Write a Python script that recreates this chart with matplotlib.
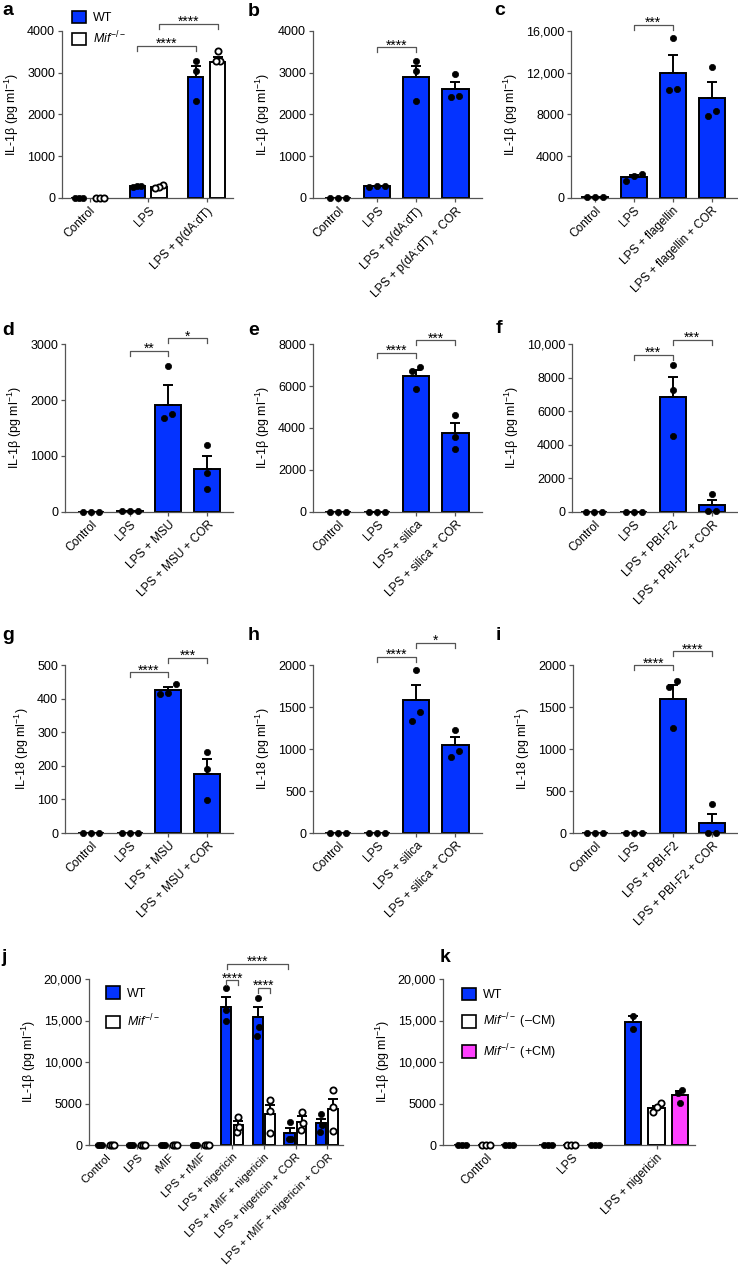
import matplotlib
matplotlib.use('Agg')
import matplotlib.pyplot as plt
from matplotlib.patches import Patch
import numpy as np

plt.rcParams['font.family'] = ['Liberation Sans', 'DejaVu Sans']
plt.rcParams['mathtext.fontset'] = 'custom'
plt.rcParams['mathtext.rm'] = 'Liberation Sans'
plt.rcParams['mathtext.it'] = 'Liberation Sans:italic'
plt.rcParams['mathtext.bf'] = 'Liberation Sans:bold'

BLUE = '#0433ff'
PINK = '#ff40ff'
GREY = '#555555'
W, H = 738, 1273
FS = 9
XFS = 8.6

IL1B = 'IL-1\u03b2 (pg ml$^{-1}$)'
IL18 = 'IL-18 (pg ml$^{-1}$)'
MIF = r'$\mathit{Mif}^{-/-}$'

# ---- data ----
# a
a_cats = ['Control', 'LPS', 'LPS + p(dA:dT)']
a_wt_mean = [0, 280, 2890]
a_wt_sem = [0, 8, 270]
a_wt_pts = [[0, 0, 0], [270, 285, 290], [3280, 3050, 2330]]
a_ko_mean = [0, 275, 3250]
a_ko_sem = [0, 20, 135]
a_ko_pts = [[0, 0, 0], [310, 255, 245], [3530, 3290, 3280]]

# b
b_cats = ['Control', 'LPS', 'LPS + p(dA:dT)', 'LPS + p(dA:dT) + COR']
b_mean = [0, 280, 2890, 2600]
b_sem = [0, 5, 280, 185]
b_pts = [[0, 0, 0], [280, 275, 285], [3280, 3050, 2330], [2960, 2430, 2450]]

# c
c_cats = ['Control', 'LPS', 'LPS + flagellin', 'LPS + flagellin + COR']
c_mean = [120, 2000, 12000, 9590]
c_sem = [10, 220, 1690, 1500]
c_pts = [[130, 120, 110], [2320, 1600, 2070], [15360, 10300, 10420], [12530, 7870, 8290]]

# d
d_cats = ['Control', 'LPS', 'LPS + MSU', 'LPS + MSU + COR']
d_mean = [0, 15, 1910, 770]
d_sem = [0, 2, 350, 230]
d_pts = [[0, 0, 0], [15, 15, 15], [2615, 1670, 1750], [1195, 705, 412]]

# e
e_cats = ['Control', 'LPS', 'LPS + silica', 'LPS + silica + COR']
e_mean = [0, 10, 6490, 3780]
e_sem = [0, 2, 255, 460]
e_pts = [[0, 0, 0], [10, 10, 10], [6905, 6700, 5875], [4630, 3590, 3010]]

# f
f_cats = ['Control', 'LPS', 'LPS + PBI-F2', 'LPS + PBI-F2 + COR']
f_mean = [0, 10, 6850, 390]
f_sem = [0, 2, 1210, 340]
f_pts = [[0, 0, 0], [10, 10, 10], [8730, 7240, 4500], [1070, 40, 40]]

# g
g_mean = [0, 0, 425, 177]
g_sem = [0, 0, 10, 42]
g_pts = [[0, 0, 0], [0, 0, 0], [443, 415, 417], [240, 189, 97]]

# h
h_mean = [0, 0, 1578, 1044]
h_sem = [0, 0, 183, 95]
h_pts = [[0, 0, 0], [0, 0, 0], [1940, 1446, 1339], [1227, 980, 908]]

# i
i_mean = [0, 0, 1600, 119]
i_sem = [0, 0, 166, 111]
i_pts = [[0, 0, 0], [0, 0, 0], [1813, 1738, 1250], [345, 0, 0]]

# j
j_cats = ['Control', 'LPS', 'rMIF', 'LPS + rMIF', 'LPS + nigericin',
          'LPS + rMIF + nigericin', 'LPS + nigericin + COR',
          'LPS + rMIF + nigericin + COR']
j_wt_mean = [0, 0, 0, 0, 16580, 15370, 1410, 2620]
j_wt_sem = [0, 0, 0, 0, 1200, 1210, 690, 520]
j_wt_pts = [[0, 0, 0], [0, 0, 0], [0, 0, 0], [0, 0, 0],
            [18870, 16300, 14970], [17700, 14200, 13080],
            [2820, 720, 680], [3700, 1530, 2410]]
j_ko_mean = [0, 0, 0, 0, 2370, 3700, 2820, 4310]
j_ko_sem = [0, 0, 0, 0, 520, 1130, 680, 1290]
j_ko_pts = [[0, 0, 0], [0, 0, 0], [0, 0, 0], [0, 0, 0],
            [3420, 1610, 2210], [5430, 4150, 1490],
            [4020, 1810, 2620], [6640, 4630, 1730]]

# k
k_cats = ['Control', 'LPS', 'LPS + nigericin']
k_wt_mean = [0, 0, 14780]
k_wt_sem = [0, 0, 800]
k_wt_pts = [[0, 0, 0], [0, 0, 0], [15580, 13980]]
k_ko_mean = [0, 0, 4420]
k_ko_sem = [0, 0, 300]
k_ko_pts = [[0, 0, 0], [0, 0, 0], [5020, 3940, 4620]]
k_cm_mean = [0, 0, 6020]
k_cm_sem = [0, 0, 480]
k_cm_pts = [[0, 0, 0], [0, 0, 0], [6670, 6270, 5020]]

fig = plt.figure(figsize=(W / 100, H / 100), dpi=100)


def make_axes(l, t, r, b):
    ax = fig.add_axes([l / W, 1 - b / H, (r - l) / W, (b - t) / H])
    ax.px = (r - l, b - t)
    return ax


def fmt(v):
    return f'{v:,}' if v >= 10000 else f'{v}'


def style(ax, yticks, xlim, ylabel, xticks, xlabels):
    ax.set_xlim(*xlim)
    ax.set_ylim(0, yticks[-1])
    ax.set_yticks(yticks)
    ax.set_yticklabels([fmt(v) for v in yticks])
    ax.set_xticks(xticks)
    ax.set_xticklabels(xlabels, rotation=45, ha='right', rotation_mode='anchor',
                       fontsize=XFS)
    for s in ['top', 'right']:
        ax.spines[s].set_visible(False)
    for s in ['left', 'bottom']:
        ax.spines[s].set_color(GREY)
        ax.spines[s].set_linewidth(0.9)
    ax.tick_params(direction='out', length=3, width=0.9, color=GREY, pad=2)
    ax.tick_params(axis='y', labelsize=FS)
    ax.set_ylabel(ylabel, fontsize=FS, labelpad=4)


def swarm(ax, vals, step_px):
    vals = np.asarray(vals, float)
    ytop = ax.get_ylim()[1]
    thresh = 9.3 * ytop / ax.px[1]
    xr = ax.get_xlim()[1] - ax.get_xlim()[0]
    unit = step_px * xr / ax.px[0]
    order = np.argsort(vals)
    clusters = [[order[0]]]
    for i in order[1:]:
        if vals[i] - vals[clusters[-1][-1]] < thresh:
            clusters[-1].append(i)
        else:
            clusters.append([i])
    offs = np.zeros(len(vals))
    for c in clusters:
        n = len(c)
        for k, idx in enumerate(c):
            offs[idx] = (k - (n - 1) / 2) * unit
    return offs


def draw(ax, xs, means, sems, pts, color, width, step_px, open_pts=False):
    ax.bar(xs, means, width=width, color=color, edgecolor='black',
           linewidth=1.4, zorder=2)
    for x, m, s in zip(xs, means, sems):
        if s > 0:
            ax.errorbar([x], [m], yerr=[[0], [s]], fmt='none', ecolor='black',
                        elinewidth=1.4, capsize=3.8, capthick=1.4, zorder=3)
    for x, p in zip(xs, pts):
        offs = swarm(ax, p, step_px)
        ax.plot(x + offs, p, 'o', ms=4.5,
                mfc='white' if open_pts else 'black', mec='black',
                mew=1.3 if open_pts else 0.5, clip_on=False, zorder=4)


def bracket(ax, x1, x2, y, label):
    ytop = ax.get_ylim()[1]
    d = 5 * ytop / ax.px[1]
    ax.plot([x1, x1, x2, x2], [y - d, y, y, y - d], color=GREY, lw=0.9,
            clip_on=False, zorder=5)
    ax.text((x1 + x2) / 2, y - 2 * ytop / ax.px[1], label, ha='center',
            va='baseline', fontsize=10, clip_on=False)


def panel_label(x, y, s):
    fig.text(x / W, 1 - y / H, s, fontsize=14, fontweight='bold',
             ha='left', va='baseline')


def legend(ax, handles, anchor, spacing):
    ax.legend(handles=handles, loc='upper left', bbox_to_anchor=anchor,
              frameon=False, fontsize=FS, handlelength=1.15, handleheight=1.15,
              labelspacing=spacing, handletextpad=0.5, borderpad=0,
              borderaxespad=0)


# ---- a ----
ax = make_axes(62, 31, 233, 198)
x = np.arange(len(a_cats))
style(ax, [0, 1000, 2000, 3000, 4000], (-0.47, 2.45), IL1B, x, a_cats)
draw(ax, x - 0.186, a_wt_mean, a_wt_sem, a_wt_pts, BLUE, 0.26, 4)
draw(ax, x + 0.186, a_ko_mean, a_ko_sem, a_ko_pts, 'white', 0.26, 4, True)
bracket(ax, 1 - 0.186, 2 - 0.186, 3640, '****')
bracket(ax, 1 + 0.186, 2 + 0.186, 4170, '****')
legend(ax, [Patch(facecolor=BLUE, edgecolor='black', lw=1.2, label='WT'),
            Patch(facecolor='white', edgecolor='black', lw=1.2, label=MIF)],
       (0.058, 1.12), 0.4)
panel_label(2, 15, 'a')

# ---- b-i single series panels ----
single = [
    ('b', (313, 31, 482, 198), b_cats, b_mean, b_sem, b_pts,
     [0, 1000, 2000, 3000, 4000], (-0.64, 3.68), IL1B,
     [(1, 2, 3610, '****')], (248, 16)),
    ('c', (571, 31, 737, 198), c_cats, c_mean, c_sem, c_pts,
     [0, 4000, 8000, 12000, 16000], (-0.61, 3.65), IL1B,
     [(1, 2, 16570, '***')], (494, 15)),
    ('d', (65, 344, 233, 512), d_cats, d_mean, d_sem, d_pts,
     [0, 1000, 2000, 3000], (-0.66, 3.66), IL1B,
     [(1, 2, 2870, '**'), (2, 3, 3100, '*')], (2, 335)),
    ('e', (313, 344, 482, 512), e_cats, e_mean, e_sem, e_pts,
     [0, 2000, 4000, 6000, 8000], (-0.64, 3.68), IL1B,
     [(1, 2, 7570, '****'), (2, 3, 8175, '***')], (248, 335)),
    ('f', (572, 344, 737, 512), f_cats, f_mean, f_sem, f_pts,
     [0, 2000, 4000, 6000, 8000, 10000], (-0.57, 3.64), IL1B,
     [(1, 2, 9345, '***'), (2, 3, 10260, '***')], (496, 333)),
    ('g', (65, 665, 233, 833), d_cats, g_mean, g_sem, g_pts,
     [0, 100, 200, 300, 400, 500], (-0.66, 3.66), IL18,
     [(1, 2, 478, '****'), (2, 3, 522, '***')], (2, 640)),
    ('h', (313, 665, 482, 833), e_cats, h_mean, h_sem, h_pts,
     [0, 500, 1000, 1500, 2000], (-0.64, 3.68), IL18,
     [(1, 2, 2096, '****'), (2, 3, 2259, '*')], (248, 640)),
    ('i', (573, 665, 737, 833), f_cats, i_mean, i_sem, i_pts,
     [0, 500, 1000, 1500, 2000], (-0.56, 3.64), IL18,
     [(1, 2, 1996, '****'), (2, 3, 2163, '****')], (496, 640)),
]
for lab, box, cats, mean, sem, pts, yt, xl, ylab, brs, lpos in single:
    ax = make_axes(*box)
    x = np.arange(len(cats))
    style(ax, yt, xl, ylab, x, cats)
    draw(ax, x, mean, sem, pts, BLUE, 0.67, 8)
    for i1, i2, y, s in brs:
        bracket(ax, x[i1], x[i2], y, s)
    panel_label(*lpos, lab)

# ---- j ----
ax = make_axes(89, 979, 343, 1145)
x = np.arange(len(j_cats))
style(ax, [0, 5000, 10000, 15000, 20000], (-0.53, 7.5), IL1B, x, j_cats)
ax.tick_params(axis='x', labelsize=8.2)
draw(ax, x - 0.19, j_wt_mean, j_wt_sem, j_wt_pts, BLUE, 0.32, 2)
draw(ax, x + 0.19, j_ko_mean, j_ko_sem, j_ko_pts, 'white', 0.3, 2, True)
bracket(ax, 4 - 0.19, 4 + 0.19, 19840, '****')
bracket(ax, 5 - 0.19, 5 + 0.19, 18910, '****')
bracket(ax, 4 - 0.17, 6 - 0.25, 21850, '****')
legend(ax, [Patch(facecolor=BLUE, edgecolor='black', lw=1.2, label='WT'),
            Patch(facecolor='white', edgecolor='black', lw=1.2, label=MIF)],
       (0.067, 0.955), 1.0)
panel_label(1, 962, 'j')

# ---- k ----
ax = make_axes(443, 979, 695, 1145)
x = np.arange(len(k_cats))
style(ax, [0, 5000, 10000, 15000, 20000], (-0.5, 2.45), IL1B, x, k_cats)
draw(ax, x - 0.276, k_wt_mean, k_wt_sem, k_wt_pts, BLUE, 0.19, 4)
draw(ax, x, k_ko_mean, k_ko_sem, k_ko_pts, 'white', 0.19, 4, True)
draw(ax, x + 0.276, k_cm_mean, k_cm_sem, k_cm_pts, PINK, 0.19, 4)
legend(ax, [Patch(facecolor=BLUE, edgecolor='black', lw=1.2, label='WT'),
            Patch(facecolor='white', edgecolor='black', lw=1.2,
                  label=MIF + ' (\u2013CM)'),
            Patch(facecolor=PINK, edgecolor='black', lw=1.2,
                  label=MIF + ' (+CM)')],
       (0.075, 0.948), 0.85)
panel_label(440, 962, 'k')

fig.savefig('out.png', dpi=100)
